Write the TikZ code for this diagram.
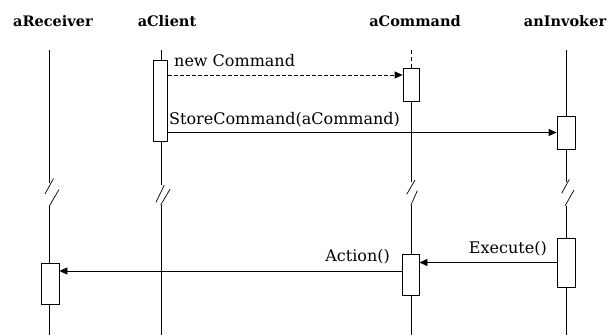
\documentclass[tikz,border=0pt]{standalone}
\usepackage{fontspec}
\setmainfont{DejaVu Serif}
\usetikzlibrary{arrows.meta}

\begin{document}
\begin{tikzpicture}[x=1pt,y=-1pt,
  obj/.style={font=\bfseries\fontsize{14.5}{17}\selectfont,anchor=base,inner sep=0pt},
  life/.style={draw=black,line width=0.8pt},
  brk/.style={draw=black,line width=0.7pt},
  act/.style={draw=black,fill=white,line width=0.8pt,minimum width=18pt,inner sep=0pt},
  msg/.style={-{Triangle[length=8pt,width=7pt]},line width=0.8pt,draw=black},
  lbl/.style={font=\fontsize{16}{19}\selectfont,inner sep=0pt}
]
\useasboundingbox (0,0) rectangle (612,335);

% objects
\node[obj] (receiver) at (53,26) {aReceiver};
\node[obj] (client) at (167,26) {aClient};
\node[obj] (command) at (415,26) {aCommand};
\node[obj] (invoker) at (565,26) {anInvoker};

% lifelines with breaks
\draw[life] (49,50) -- (49,183) (49,206) -- (49,335);
\draw[brk] (53.5,178.5) -- (45,194) (59,189.5) -- (49.3,206);
\draw[life] (161,50) -- (161,185) (161,205) -- (161,335);
\draw[brk] (164.3,185) -- (156,202.3) (170,189.3) -- (160.7,205);
\draw[life,dash pattern=on 4pt off 3pt] (411,50) -- (411,68);
\draw[life] (411,101) -- (411,182) (411,205) -- (411,335);
\draw[brk] (415,180) -- (406.7,194.3) (417.3,190.7) -- (411,205);
\draw[life] (566,50) -- (566,182) (566,206) -- (566,335);
\draw[brk] (569.3,179.3) -- (561.7,193.3) (574,190) -- (565,206);

% activations
\node[act,minimum width=14pt,minimum height=81pt] (cli) at (160.5,100.5) {};
\node[act,minimum width=16pt,minimum height=33pt] (cmd1) at (411,84.5) {};
\node[act,minimum height=33pt] (inv1) at (566,132.5) {};
\node[act,minimum height=49pt] (inv2) at (566,262.5) {};
\node[act,minimum width=17pt,minimum height=41pt] (cmd2) at (410.5,274.5) {};
\node[act,minimum height=41pt] (rcv) at (50,283.5) {};

% messages
\draw[msg,dash pattern=on 4pt off 2pt] (cli.east |- 0,75) -- (cmd1.west |- 0,75);
\draw[msg] (cli.east |- inv1.west) -- (inv1.west);
\draw[msg] (inv2.west) -- (cmd2.east |- inv2.west);
\draw[msg] (cmd2.west |- 0,271) -- (rcv.east |- 0,271);

\node[lbl,anchor=base west] (newcmd) at (174,66.7) {new Command};
\node[lbl,anchor=base west] (storecmd) at (169,124) {StoreCommand(aCommand)};
\node[lbl,anchor=base east] (execute) at (547,253.3) {Execute()};
\node[lbl,anchor=base east] (action) at (390,261.7) {Action()};
\end{tikzpicture}
\end{document}
